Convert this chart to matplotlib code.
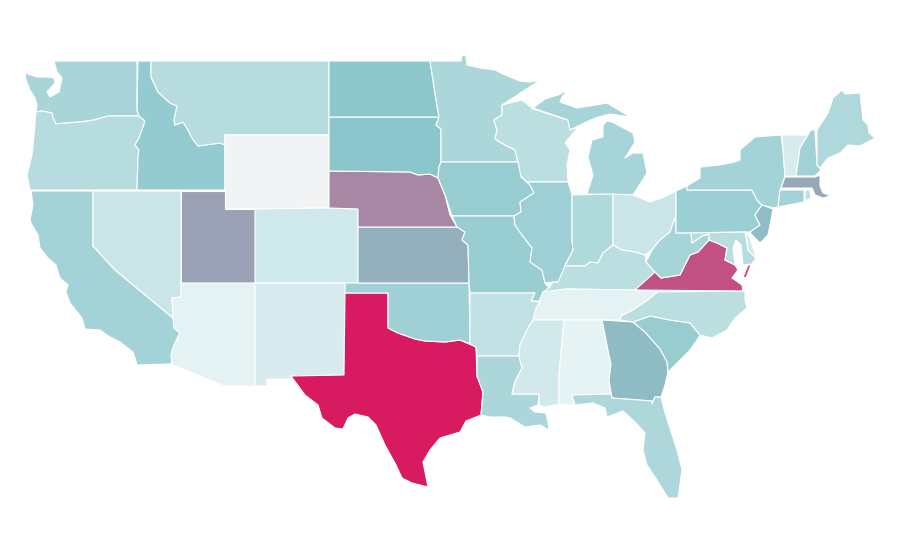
import matplotlib
matplotlib.use('Agg')
import matplotlib.pyplot as plt
from matplotlib.colors import LinearSegmentedColormap, Normalize

# state outlines (map units, y goes down)
WA = [(54,61),(137,61),(137,110),(139,116),(108,116),(94,120),(80,122),(66,123),(56,124),(53,118),(52,113),(42,111),(36,112),(37,105),(35,98),(30,90),(26,80),(25,73),(37,77),(48,77),(54,78),(55,83),(47,92),(50,97),(59,92),(62,78),(57,72)]
OR = [(36,112),(42,111),(52,113),(53,118),(56,124),(66,123),(80,122),(94,120),(108,116),(139,116),(145,121),(142,130),(139,138),(135,145),(139,150),(138,157),(137,190),(30,190),(27,175),(32,155),(34,135)]
CA = [(31,191),(93,191),(93,246),(115,270),(173,318),(174,328),(180,333),(174,345),(171,355),(172,362),(170,364),(137,365),(135,358),(133,352),(120,342),(110,337),(100,330),(85,329),(82,318),(70,303),(66,292),(68,285),(60,278),(56,265),(48,258),(40,248),(38,235),(32,225),(30,220),(33,205)]
NV = [(93,191),(181,191),(181,297),(172,298),(173,318),(115,270),(93,246)]
ID = [(138,61),(151,61),(151,77),(158,92),(170,103),(177,106),(174,120),(175,125),(183,122),(188,130),(192,138),(198,146),(220,143),(225,145),(225,190),(137,190),(138,157),(139,150),(135,145),(139,138),(142,130),(145,121),(139,116),(137,110)]
MT = [(151,61),(329,61),(329,135),(225,135),(225,145),(220,143),(198,146),(192,138),(188,130),(183,122),(175,125),(174,120),(177,106),(170,103),(158,92),(151,77)]
WY = [(225,135),(329,135),(329,208),(225,209)]
UT = [(181,191),(225,191),(225,209),(255,209),(255,283),(181,283)]
CO = [(255,209),(329,208),(358,209),(358,283),(255,283)]
AZ = [(181,283),(255,283),(255,386),(224,386),(171,364),(172,362),(171,355),(174,345),(180,333),(174,328),(173,318),(172,298),(181,297)]
NM = [(255,283),(345,283),(344,375),(291,376),(291,379),(267,379),(267,386),(255,386)]
TX = [(345,293),(388,293),(388,328),(398,333),(415,339),(425,341),(445,342),(460,340),(476,347),(477,376),(483,392),(481,415),(466,421),(460,432),(440,438),(430,450),(423,462),(428,487),(412,483),(402,478),(396,465),(385,445),(376,425),(368,417),(355,414),(348,418),(343,429),(335,428),(322,418),(318,405),(305,395),(291,376),(344,375)]
OK = [(345,283),(469,283),(470,344),(460,340),(445,342),(425,341),(415,339),(398,333),(388,328),(388,293),(345,293)]
KS = [(358,227),(457,227),(465,232),(462,240),(468,245),(469,283),(358,283)]
NE = [(329,171),(410,172),(418,175),(430,174),(438,178),(445,195),(450,215),(457,227),(358,227),(358,209),(329,208)]
SD = [(329,117),(439,117),(436,125),(441,129),(441,162),(439,167),(438,178),(430,174),(418,175),(410,172),(329,171)]
ND = [(329,61),(430,61),(433,80),(436,100),(439,117),(329,117)]
MN = [(430,61),(461,61),(462,55),(466,56),(467,65),(480,68),(495,70),(503,74),(510,77),(520,81),(530,82),(540,80),(525,90),(505,103),(502,105),(502,115),(494,120),(497,130),(495,139),(505,145),(515,150),(518,162),(441,162),(441,129),(436,125),(439,117),(436,100),(433,80)]
WI = [(502,105),(522,100),(527,104),(533,109),(568,120),(570,130),(578,127),(565,143),(570,150),(567,165),(568,182),(527,182),(520,175),(518,162),(515,150),(505,145),(495,139),(497,130),(494,120),(502,115)]
MI_UP = [(533,108),(545,99),(558,95),(568,90),(562,97),(560,102),(577,108),(590,106),(607,103),(622,112),(630,117),(610,114),(595,118),(580,125),(570,130),(568,120)]
MI_LOW = [(607,121),(612,122),(633,133),(635,142),(625,158),(633,153),(643,153),(647,173),(633,195),(587,194),(593,175),(588,157),(592,140),(603,137),(603,125)]
IA = [(441,162),(518,162),(521,177),(530,185),(534,193),(520,202),(521,212),(514,216),(452,216),(445,195),(438,178),(439,167)]
MO = [(452,216),(514,216),(515,225),(522,235),(532,248),(530,262),(542,270),(545,283),(549,288),(540,301),(531,301),(535,293),(470,293),(469,283),(468,245),(462,240),(465,232),(457,227)]
IL = [(527,182),(568,182),(572,195),(572,240),(573,250),(565,265),(560,280),(558,282),(553,282),(545,283),(542,270),(530,262),(532,248),(522,235),(515,225),(514,216),(521,212),(520,202),(534,193),(530,185)]
IN = [(572,195),(613,194),(613,245),(603,253),(598,263),(590,262),(585,266),(565,266),(573,250),(572,240)]
OH = [(613,194),(633,195),(650,202),(662,198),(676,191),(676,215),(670,232),(660,240),(652,250),(645,255),(635,252),(622,250),(613,245)]
KY = [(553,282),(558,282),(565,266),(585,266),(590,262),(598,263),(603,253),(613,245),(622,250),(635,252),(645,255),(646,262),(655,272),(650,278),(635,290),(565,289),(565,292),(543,292),(549,288)]
TN = [(543,292),(565,289),(635,290),(658,292),(645,302),(633,310),(621,316),(620,320),(533,320),(536,308)]
AR = [(470,293),(535,293),(531,301),(540,302),(536,308),(533,320),(528,328),(520,345),(519,356),(477,356),(476,347),(470,344)]
LA = [(477,356),(519,356),(522,368),(515,382),(512,394),(539,394),(538,405),(530,408),(535,412),(546,413),(548,422),(549,430),(540,425),(525,427),(510,418),(505,417),(490,417),(481,415),(483,392),(477,376)]
MS = [(533,320),(564,320),(559,375),(559,404),(545,407),(539,405),(539,394),(512,394),(515,382),(522,368),(519,356),(520,345),(528,328)]
AL = [(564,320),(602,320),(611,365),(609,380),(611,394),(572,395),(575,405),(567,405),(559,404),(559,375)]
GA = [(602,320),(633,322),(645,332),(660,349),(667,362),(668,372),(665,385),(661,397),(655,397),(652,404),(652,401),(612,398),(609,380),(611,365)]
FL = [(572,395),(611,394),(612,398),(652,401),(652,404),(655,397),(661,397),(665,413),(677,450),(682,470),(678,498),(668,498),(657,480),(647,465),(643,450),(645,433),(635,422),(623,411),(607,417),(605,408),(593,403),(575,405)]
SC = [(633,322),(650,316),(670,320),(690,323),(700,335),(697,340),(690,350),(675,365),(668,372),(667,362),(660,349),(645,332)]
NC = [(658,292),(745,291),(745,300),(747,308),(735,318),(727,330),(712,338),(700,335),(690,323),(670,320),(650,316),(633,322),(620,320),(621,316),(633,310),(645,302)]
VA_MAIN = [(635,290),(655,272),(661,278),(680,275),(690,255),(698,252),(709,240),(717,243),(727,248),(725,260),(735,265),(738,270),(732,278),(742,285),(743,291)]
VA_SHORE = [(743,277),(748,265),(751,265),(746,278)]
WV = [(646,262),(652,250),(660,240),(670,232),(676,215),(676,233),(691,233),(692,243),(702,236),(709,234),(709,240),(698,252),(690,255),(680,275),(661,278),(655,272)]
PA = [(676,191),(687,186),(687,190),(752,190),(757,200),(762,205),(755,215),(760,225),(750,232),(676,233)]
NY_MAIN = [(687,190),(687,186),(700,178),(700,167),(720,165),(735,162),(740,160),(740,150),(755,137),(781,135),(783,150),(785,176),(781,188),(780,190),(778,207),(773,208),(762,205),(757,200),(752,190)]
NY_LONG = [(773,215),(800,208),(785,213),(770,216)]
NJ = [(762,205),(773,209),(772,215),(771,220),(768,235),(760,243),(752,235),(750,232),(760,225),(755,215)]
CT = [(780,190),(804,190),(804,202),(778,207)]
RI = [(805,190),(810,190),(811,198),(805,201)]
MA = [(781,188),(785,177),(815,177),(820,175),(820,186),(823,193),(831,196),(823,198),(815,195),(812,188)]
VT = [(782,135),(808,135),(800,148),(796,176),(785,176),(783,150)]
NH = [(800,148),(811,130),(815,130),(817,165),(821,170),(815,176),(796,176)]
ME = [(817,130),(828,113),(833,98),(842,90),(845,94),(860,93),(863,120),(868,125),(869,133),(875,138),(860,146),(848,145),(840,153),(828,158),(820,168),(817,165)]
MD = [(691,233),(745,232),(748,250),(756,258),(752,264),(743,265),(741,245),(736,240),(733,248),(735,265),(725,260),(727,248),(717,243),(709,240),(709,234),(702,236),(692,243)]
DE = [(746,232),(750,238),(756,258),(748,250)]

state_names = ['WA','OR','CA','NV','ID','MT','WY','UT','CO','AZ','NM','TX','OK','KS','NE','SD','ND','MN','WI','MI','IA','MO','IL','IN','OH','KY','TN','AR','LA','MS','AL','GA','FL','SC','NC','VA','WV','PA','NY','NJ','CT','RI','MA','VT','NH','ME','MD','DE']
state_values = [28,23,30,15,36,23,0,53,13,5,9.5,100,32,48,62,40,39,27,21,29,35,34.5,32.5,25,15,21,5,18,27,12,4.5,44,26.5,35,21,81,29,33,30,43,30,18,50,9.5,31,26,22,12]
state_shapes = [[WA],[OR],[CA],[NV],[ID],[MT],[WY],[UT],[CO],[AZ],[NM],[TX],[OK],[KS],[NE],[SD],[ND],[MN],[WI],[MI_UP,MI_LOW],[IA],[MO],[IL],[IN],[OH],[KY],[TN],[AR],[LA],[MS],[AL],[GA],[FL],[SC],[NC],[VA_MAIN,VA_SHORE],[WV],[PA],[NY_MAIN,NY_LONG],[NJ],[CT],[RI],[MA],[VT],[NH],[ME],[MD],[DE]]

cmap = LinearSegmentedColormap.from_list('map', [(0, '#f2f3f5'), (0.04, '#e6f3f5'), (0.4, '#8ac6cb'), (1, '#d81b60')])
norm = Normalize(0, 100)

fig = plt.figure(figsize=(9, 5.6), dpi=100)
ax = fig.add_axes([0, 0, 1, 1])
for name, value, shapes in zip(state_names, state_values, state_shapes):
    for shape in shapes:
        xs = [p[0] for p in shape]
        ys = [p[1] for p in shape]
        ax.fill(xs, ys, facecolor=cmap(norm(value)), edgecolor='white', linewidth=0.8, joinstyle='round')
ax.set_xlim(0, 900)
ax.set_ylim(560, 0)
ax.axis('off')
plt.savefig('out.png', dpi=100)
